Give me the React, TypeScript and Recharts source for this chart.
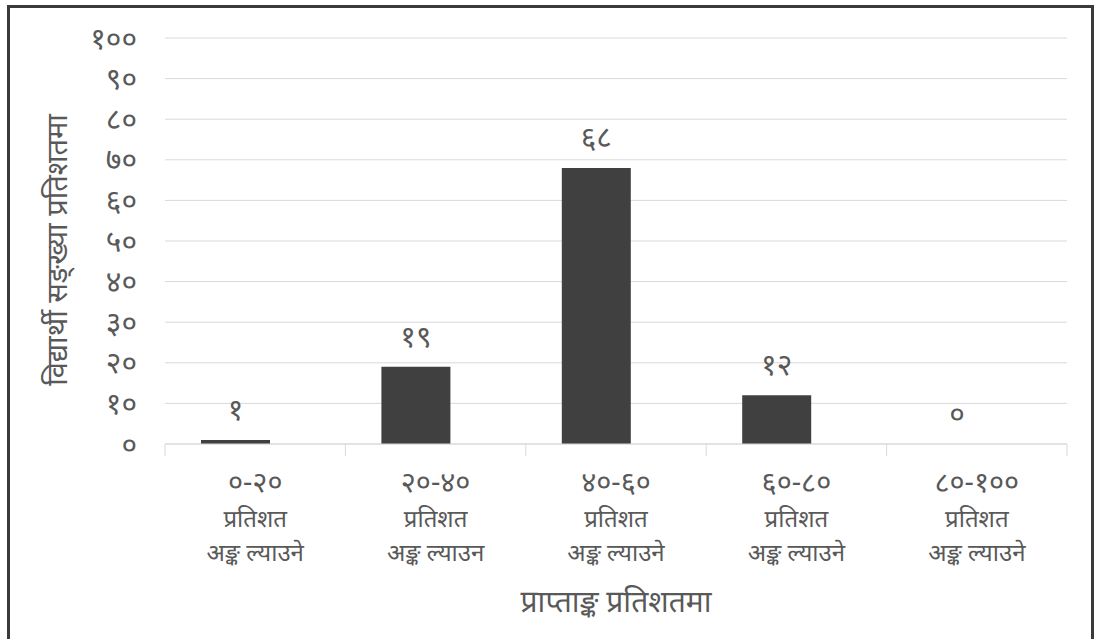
import { Bar, BarChart, CartesianGrid, LabelList, Rectangle, XAxis, YAxis } from "recharts";

const ranges = ["0-20", "20-40", "40-60", "60-80", "80-100"];
const unitLine = ["प्रतिशत", "प्रतिशत", "प्रतिशत", "प्रतिशत", "प्रतिशत"];
const actionLine = ["अङ्क ल्याउने", "अङ्क ल्याउन", "अङ्क ल्याउने", "अङ्क ल्याउने", "अङ्क ल्याउने"];
const studentPercent = [1, 19, 68, 12, 0];
const yTicks = [0, 10, 20, 30, 40, 50, 60, 70, 80, 90, 100];

const yTitle = "विद्यार्थी सङ्ख्या प्रतिशतमा";
const xTitle = "प्राप्ताङ्क प्रतिशतमा";

const FONT = "'Noto Sans', sans-serif";
const TEXT = "#595959";
const BAR = "#404040";
const GRID = "#d9d9d9";
const BAR_SHIFT = -20;

const DIGITS = "०१२३४५६७८९";
const toDevanagari = (v: string | number) =>
  String(v).replace(/[0-9]/g, (d) => DIGITS[Number(d)]);

const data = ranges.map((range, i) => ({
  range,
  unit: unitLine[i],
  action: actionLine[i],
  value: studentPercent[i],
}));

const YTick = (props: any) => {
  const { x, y, payload } = props;
  return (
    <text x={x - 28} y={y} dy="0.35em" textAnchor="end" fill={TEXT} fontSize={30} fontFamily={FONT}>
      {toDevanagari(payload.value)}
    </text>
  );
};

const CategoryTick = (props: any) => {
  const { x, y, payload, index, width, visibleTicksCount } = props;
  const band = width / visibleTicksCount;
  const row = data[index];
  return (
    <g>
      <line x1={x - band / 2} x2={x - band / 2} y1={y} y2={y + 12} stroke={GRID} />
      {index === visibleTicksCount - 1 && (
        <line x1={x + band / 2} x2={x + band / 2} y1={y} y2={y + 12} stroke={GRID} />
      )}
      <text textAnchor="middle" fill={TEXT} fontFamily={FONT}>
        <tspan x={x} y={y + 48} fontSize={29}>{toDevanagari(payload.value)}</tspan>
        <tspan x={x} y={y + 83} fontSize={24}>{row.unit}</tspan>
        <tspan x={x} y={y + 117} fontSize={24}>{row.action}</tspan>
      </text>
    </g>
  );
};

const ValueLabel = (props: any) => {
  const { x, y, width, value } = props;
  return (
    <text x={x + width / 2 + BAR_SHIFT} y={y - 20} textAnchor="middle" fill={TEXT} fontSize={30} fontFamily={FONT}>
      {toDevanagari(value)}
    </text>
  );
};

export default function App() {
  return (
    <div style={{ position: "absolute", left: 0, top: 0, width: 1096, height: 639, background: "#fff" }}>
      <div
        style={{
          position: "absolute",
          left: 7,
          top: 5,
          width: 1081,
          height: 640,
          borderLeft: "3px solid #3a3a3a",
          borderTop: "3px solid #3a3a3a",
          borderRight: "3px solid #3a3a3a",
        }}
      />
      <div style={{ position: "absolute", left: 0, top: 0 }}>
        <BarChart
          width={1096}
          height={639}
          data={data}
          margin={{ top: 38, right: 29, bottom: 0, left: 0 }}
          barSize={69}
        >
          <CartesianGrid vertical={false} stroke={GRID} strokeWidth={1} />
          <XAxis
            dataKey="range"
            height={195}
            axisLine={{ stroke: GRID }}
            tickLine={false}
            tickSize={0}
            tickMargin={0}
            interval={0}
            tick={<CategoryTick />}
            label={{
              content: (p: any) => {
                const vb = p.viewBox;
                return (
                  <text x={vb.x + vb.width / 2} y={vb.y + 168} textAnchor="middle" fill={TEXT} fontSize={30} fontFamily={FONT}>
                    {xTitle}
                  </text>
                );
              },
            }}
          />
          <YAxis
            width={165}
            domain={[0, 100]}
            ticks={yTicks}
            axisLine={false}
            tickLine={false}
            tickSize={0}
            tickMargin={0}
            tick={<YTick />}
            label={{
              content: (p: any) => {
                const vb = p.viewBox;
                const cx = vb.x + 57;
                const cy = vb.y + vb.height / 2 + 9;
                return (
                  <text
                    x={cx}
                    y={cy}
                    dy="0.35em"
                    transform={`rotate(-90 ${cx} ${cy})`}
                    textAnchor="middle"
                    fill={TEXT}
                    fontSize={29}
                    fontFamily={FONT}
                  >
                    {yTitle}
                  </text>
                );
              },
            }}
          />
          <Bar
            dataKey="value"
            fill={BAR}
            isAnimationActive={false}
            shape={(p: any) => <Rectangle {...p} x={p.x + BAR_SHIFT} />}
          >
            <LabelList dataKey="value" content={<ValueLabel />} />
          </Bar>
        </BarChart>
      </div>
    </div>
  );
}
